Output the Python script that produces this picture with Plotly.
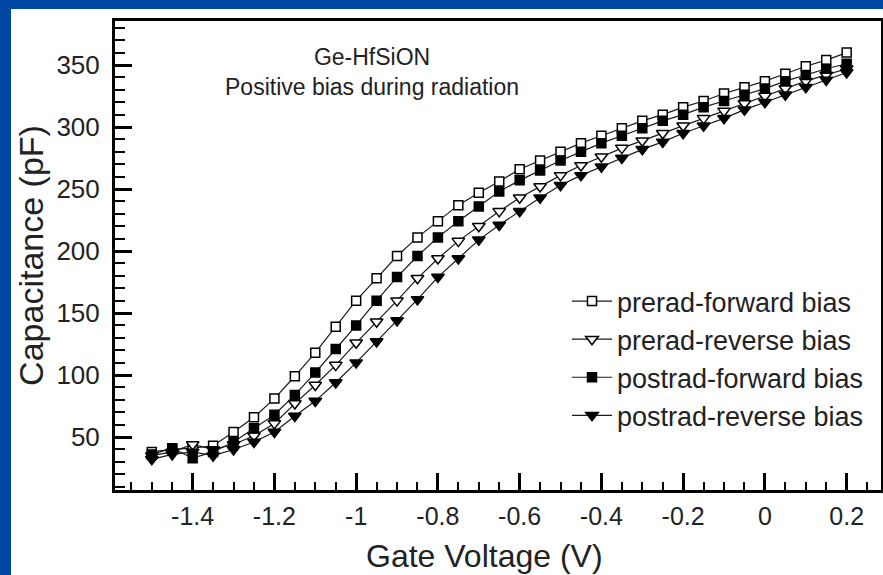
import plotly.graph_objects as go

gate_voltage = [-1.5, -1.45, -1.4, -1.35, -1.3, -1.25, -1.2, -1.15, -1.1, -1.05,
                -1.0, -0.95, -0.9, -0.85, -0.8, -0.75, -0.7, -0.65, -0.6, -0.55,
                -0.5, -0.45, -0.4, -0.35, -0.3, -0.25, -0.2, -0.15, -0.1, -0.05,
                0.0, 0.05, 0.1, 0.15, 0.2]

prerad_forward = [38, 40, 41, 43, 54, 66, 81, 99, 118, 139,
                  160, 178, 196, 211, 224, 237, 247, 256, 266, 273,
                  280, 287, 293, 299, 305, 310, 316, 321, 327, 332,
                  337, 343, 349, 354, 360]
prerad_reverse = [35, 38, 44, 40, 44, 51, 61, 77, 92, 108,
                  126, 143, 160, 178, 194, 208, 220, 232, 243, 252,
                  261, 269, 276, 283, 289, 295, 301, 307, 313, 319,
                  325, 331, 337, 342, 347]
postrad_forward = [36, 41, 33, 38, 46, 57, 68, 84, 102, 121,
                   140, 160, 179, 196, 211, 224, 236, 248, 257, 265,
                   273, 280, 287, 293, 299, 305, 310, 316, 321, 326,
                   331, 337, 342, 347, 351]
postrad_reverse = [32, 36, 38, 35, 40, 46, 54, 67, 79, 94,
                   110, 127, 144, 161, 179, 194, 209, 221, 232, 243,
                   253, 261, 268, 275, 282, 288, 295, 301, 307, 314,
                   320, 326, 332, 338, 344]

series_names = ["prerad-forward bias", "prerad-reverse bias",
                "postrad-forward bias", "postrad-reverse bias"]
x_tick_vals = [-1.4, -1.2, -1.0, -0.8, -0.6, -0.4, -0.2, 0.0, 0.2]
x_tick_text = ["-1.4", "-1.2", "-1", "-0.8", "-0.6", "-0.4", "-0.2", "0", "0.2"]
y_tick_vals = [50, 100, 150, 200, 250, 300, 350]

FONT = "Liberation Sans, Arial, sans-serif"
TXT = "#222222"
BLUE = "#0047A1"

styles = [
    dict(symbol="square", color="white", size=9),
    dict(symbol="triangle-down", color="white", size=11),
    dict(symbol="square", color="black", size=9),
    dict(symbol="triangle-down", color="black", size=11),
]
data = [prerad_forward, prerad_reverse, postrad_forward, postrad_reverse]

fig = go.Figure()
for name, ys, st in zip(series_names, data, styles):
    fig.add_trace(go.Scatter(
        x=gate_voltage, y=ys, name=name, mode="lines+markers",
        line=dict(color="#1a1a1a", width=1.2),
        marker=dict(symbol=st["symbol"], size=st["size"], color=st["color"],
                    line=dict(color="black", width=1.5)),
    ))

W, H = 883, 575
ml, mr, mt, mb = 115, 2, 21, 85
pw, ph = W - ml - mr, H - mt - mb

def px_x(p):
    return (p - ml) / pw

def px_y(p):
    return 1 - (p - mt) / ph

fig.add_shape(type="rect", xref="paper", yref="paper",
              x0=px_x(11), x1=px_x(W + 5), y0=px_y(H + 5), y1=px_y(9),
              fillcolor="white", line=dict(width=0), layer="below")

fig.add_annotation(xref="paper", yref="paper", x=px_x(372), y=px_y(42),
                   xanchor="center", yanchor="top", showarrow=False,
                   text="Ge-HfSiON<br>Positive bias during radiation",
                   font=dict(family=FONT, size=23, color=TXT), align="center")

fig.add_annotation(xref="paper", yref="paper", x=px_x(484), y=px_y(556),
                   xanchor="center", yanchor="middle", showarrow=False,
                   text="Gate Voltage (V)",
                   font=dict(family=FONT, size=32, color=TXT))

fig.update_layout(
    width=W, height=H,
    margin=dict(l=ml, r=mr, t=mt, b=mb, pad=0, autoexpand=False),
    paper_bgcolor=BLUE, plot_bgcolor="white",
    font=dict(family=FONT, color=TXT),
    showlegend=True,
    legend=dict(x=px_x(567), y=px_y(277), xanchor="left", yanchor="top",
                bgcolor="rgba(255,255,255,0)", borderwidth=0,
                font=dict(family=FONT, size=27, color=TXT),
                itemwidth=40, tracegroupgap=0),
    xaxis=dict(range=[-1.59, 0.284], tickmode="array", tickvals=x_tick_vals,
               ticktext=x_tick_text, ticks="inside", ticklen=17, tickwidth=3,
               tickcolor="black", showline=True, linecolor="black", linewidth=3,
               mirror=True, showgrid=False, zeroline=False, automargin=False,
               tickfont=dict(family=FONT, size=25, color=TXT),
               ticklabelstandoff=2,
               minor=dict(dtick=0.05, tick0=0, ticks="inside", ticklen=8,
                          tickwidth=1.5, tickcolor="black", showgrid=False)),
    yaxis=dict(range=[7.3, 385.5], tickmode="array", tickvals=y_tick_vals,
               ticks="inside", ticklen=17, tickwidth=3, tickcolor="black",
               showline=True, linecolor="black", linewidth=3, mirror=True,
               showgrid=False, zeroline=False, automargin=False,
               tickfont=dict(family=FONT, size=26, color=TXT),
               ticklabelstandoff=7,
               minor=dict(dtick=10, tick0=0, ticks="inside", ticklen=10,
                          tickwidth=1.5, tickcolor="black", showgrid=False),
               title=dict(text="Capacitance (pF)", standoff=3,
                          font=dict(family=FONT, size=34, color=TXT))),
)

fig.write_html("out.html", config={"displayModeBar": False},
               post_script="document.body.style.margin='0';document.body.style.background='" + BLUE + "';")
